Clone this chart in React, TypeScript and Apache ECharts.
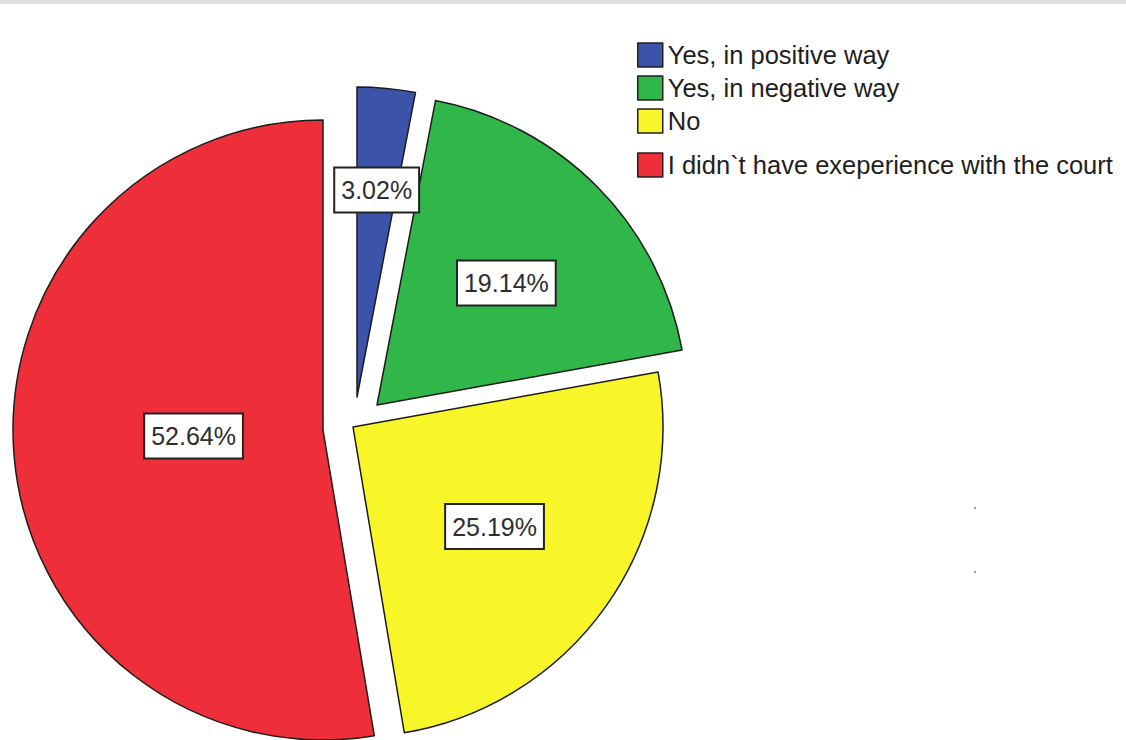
import React, { useEffect, useRef } from "react";
import * as echarts from "echarts";

const categories = [
  "Yes, in positive way",
  "Yes, in negative way",
  "No",
  "I didn`t have exeperience with the court",
];
const percentages = [3.02, 19.14, 25.19, 52.64];
const colors = ["#3b54aa", "#31b64a", "#f8f628", "#ee2e38"];

// layout: pixel center of each exploded slice, and label nudges
const sliceCenters: [number, number][] = [
  [357, 397],
  [377, 405],
  [353, 427],
  [323, 430],
];
const labelNudge: [number, number][] = [
  [4.7, -49.8],
  [17, -11],
  [12.3, 8.6],
  [28, -7],
];
const RADIUS = 310;
const FONT = "Arial, 'Liberation Sans', sans-serif";

export default function App() {
  const ref = useRef<HTMLDivElement>(null);
  useEffect(() => {
    if (!ref.current) return;
    const chart = echarts.init(ref.current, undefined, { renderer: "svg" });
    const series = categories.map((_, si) => ({
      type: "pie",
      silent: true,
      center: sliceCenters[si],
      radius: [0, RADIUS],
      startAngle: 90,
      clockwise: true,
      avoidLabelOverlap: false,
      labelLine: { show: false },
      emphasis: { disabled: true },
      labelLayout: () => ({ dx: labelNudge[si][0], dy: labelNudge[si][1] }),
      data: categories.map((name, i) => ({
        name,
        value: percentages[i],
        itemStyle:
          i === si
            ? { color: colors[i], borderColor: "#1c1c1c", borderWidth: 1.5 }
            : { color: "rgba(0,0,0,0)", borderWidth: 0 },
        label:
          i === si
            ? {
                show: true,
                position: "inside",
                formatter: () => percentages[i].toFixed(2) + "%",
                fontFamily: FONT,
                fontSize: 25,
                lineHeight: 28,
                color: "#2e2e2e",
                backgroundColor: "#ffffff",
                borderColor: "#222",
                borderWidth: 2,
                padding: [8, 6, 7, 6],
              }
            : { show: false },
      })),
    }));
    const legendBase = {
      orient: "vertical",
      left: 637,
      padding: 0,
      icon: "rect",
      itemWidth: 25,
      itemHeight: 24,
      itemGap: 7,
      selectedMode: false,
      textStyle: { fontFamily: FONT, fontSize: 25.5, color: "#1e1e1e", lineHeight: 24 },
    };
    chart.setOption({
      animation: false,
      backgroundColor: "#ffffff",
      legend: [
        {
          ...legendBase,
          top: 42,
          data: categories.slice(0, 3).map((name, i) => ({
            name,
            itemStyle: { color: colors[i], borderColor: "#222", borderWidth: 1.5 },
          })),
        },
        {
          ...legendBase,
          top: 152,
          data: categories.slice(3).map((name, i) => ({
            name,
            itemStyle: { color: colors[i + 3], borderColor: "#222", borderWidth: 1.5 },
          })),
        },
      ],
      graphic: [
        { type: "rect", shape: { x: 0, y: 0, width: 1126, height: 4 }, style: { fill: "#dcdee1" } },
        { type: "circle", shape: { cx: 975, cy: 508, r: 1 }, style: { fill: "#888" } },
        { type: "circle", shape: { cx: 975, cy: 572, r: 1 }, style: { fill: "#888" } },
      ],
      series,
    });
    return () => chart.dispose();
  }, []);
  return (
    <div
      ref={ref}
      style={{ position: "fixed", left: 0, top: 0, width: 1126, height: 740, background: "#fff" }}
    />
  );
}
